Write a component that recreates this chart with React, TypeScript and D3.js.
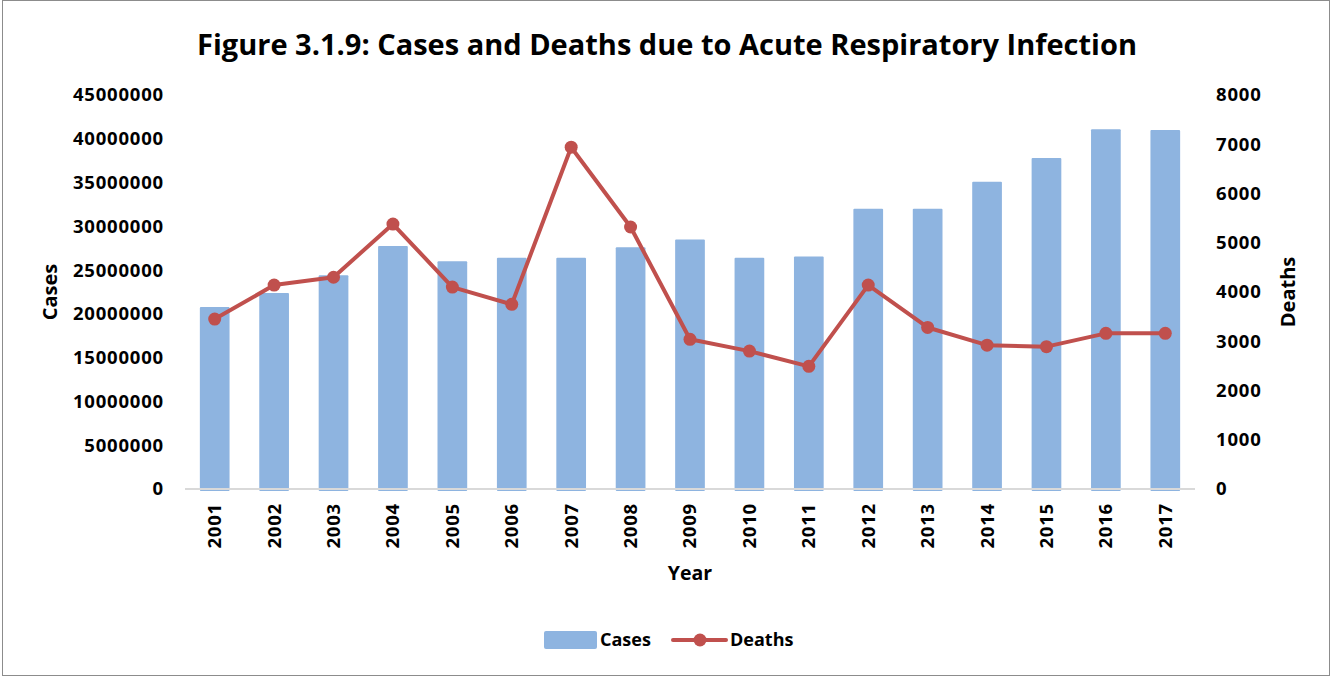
import React from "react";
import * as d3 from "d3";

const years = ["2001","2002","2003","2004","2005","2006","2007","2008","2009","2010","2011","2012","2013","2014","2015","2016","2017"];
const cases = [20800000,22400000,24400000,27750000,26000000,26400000,26400000,27600000,28500000,26400000,26550000,32000000,32000000,35100000,37800000,41100000,41000000];
const deaths = [3450,4140,4300,5380,4100,3750,6940,5320,3040,2800,2490,4140,3280,2920,2890,3160,3160];
const leftTicks = [0,5000000,10000000,15000000,20000000,25000000,30000000,35000000,40000000,45000000];
const rightTicks = [0,1000,2000,3000,4000,5000,6000,7000,8000];

const W = 1332, H = 676;
const FONT = "'Open Sans', 'Liberation Sans', sans-serif";

export default function App() {
  const x0 = 185, x1 = 1195, yTop = 95, yBase = 489;
  const x = d3.scaleBand<string>().domain(years).range([x0, x1]).paddingInner(0.5).paddingOuter(0.25);
  const yL = d3.scaleLinear().domain([0, 45000000]).range([yBase, yTop]);
  const yR = d3.scaleLinear().domain([0, 8000]).range([yBase, yTop]);
  const cx = (d: string) => (x(d) as number) + x.bandwidth() / 2;
  const line = d3.line<number>().x((_, i) => cx(years[i])).y((d) => yR(d));
  const barColor = "#8eb4e0";
  const lineColor = "#c0504d";
  const tickStyle = { fontFamily: FONT, fontWeight: "bold" as const, fontSize: 18.5, letterSpacing: 0.8, fill: "#000" };
  return (
    <div style={{ position: "absolute", left: 0, top: 0 }}>
      <svg width={W} height={H} style={{ display: "block" }}>
        <rect x={0} y={0} width={W} height={H} fill="#fff" />
        <rect x={2.5} y={0.5} width={W - 5} height={H - 1} fill="none" stroke="#8c8c8c" strokeWidth={1} />
        <text x={667} y={55} textAnchor="middle" fontFamily={FONT} fontWeight="bold" fontSize={29} fill="#000">
          Figure 3.1.9: Cases and Deaths due to Acute Respiratory Infection
        </text>
        {cases.map((v, i) => (
          <rect key={i} x={x(years[i])} y={yL(v)} width={x.bandwidth()} height={yBase - yL(v) + 2} fill={barColor} rx={1} />
        ))}
        <line x1={x0} x2={x1} y1={yBase} y2={yBase} stroke="#d9d9d9" strokeWidth={2} />
        {leftTicks.map((t) => (
          <text key={t} x={164} y={yL(t)} dy="0.35em" textAnchor="end" {...tickStyle}>{t}</text>
        ))}
        {rightTicks.map((t) => (
          <text key={t} x={1216} y={yR(t)} dy="0.35em" textAnchor="start" {...tickStyle}>{t}</text>
        ))}
        {years.map((yv) => (
          <text key={yv} transform={`translate(${cx(yv)},${503}) rotate(-90)`} dy="0.35em" textAnchor="end" {...tickStyle}>{yv}</text>
        ))}
        <text transform={`translate(50,292) rotate(-90)`} dy="0.35em" textAnchor="middle" fontFamily={FONT} fontWeight="bold" fontSize={20} fill="#000">Cases</text>
        <text transform={`translate(1288,292) rotate(-90)`} dy="0.35em" textAnchor="middle" fontFamily={FONT} fontWeight="bold" fontSize={20} fill="#000">Deaths</text>
        <text x={690} y={573} dy="0.35em" textAnchor="middle" fontFamily={FONT} fontWeight="bold" fontSize={19.5} fill="#000">Year</text>
        <path d={line(deaths) || ""} fill="none" stroke={lineColor} strokeWidth={4} strokeLinejoin="round" />
        {deaths.map((d, i) => (
          <circle key={i} cx={cx(years[i])} cy={yR(d)} r={6.5} fill={lineColor} />
        ))}
        <rect x={544} y={631} width={53} height={18} rx={2} fill={barColor} />
        <text x={600} y={640} dy="0.35em" fontFamily={FONT} fontWeight="bold" fontSize={18} fill="#000">Cases</text>
        <line x1={673} x2={726} y1={640} y2={640} stroke={lineColor} strokeWidth={4} strokeLinecap="round" />
        <circle cx={700} cy={640} r={6.5} fill={lineColor} />
        <text x={730} y={640} dy="0.35em" fontFamily={FONT} fontWeight="bold" fontSize={18} fill="#000">Deaths</text>
      </svg>
    </div>
  );
}
